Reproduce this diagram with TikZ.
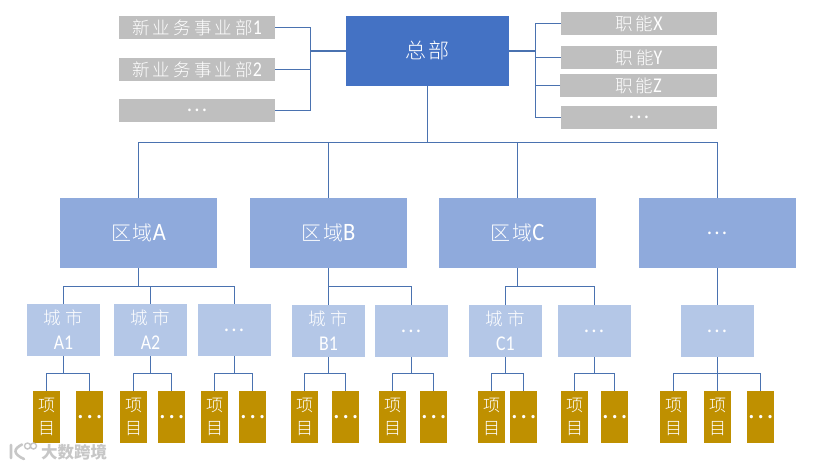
\documentclass[tikz,border=0pt]{standalone}
\usepackage{fontspec}
\setmainfont{Carlito}
\newfontfamily\cjkH[LetterSpace=14,UprightFont=* Light]{Noto Sans CJK SC}
\newfontfamily\cjkA[LetterSpace=8,UprightFont=* Light]{Noto Sans CJK SC}
\newfontfamily\cjkB[LetterSpace=18,UprightFont=* Light]{Noto Sans CJK SC}
\newfontfamily\cjkC[LetterSpace=26,UprightFont=* Light]{Noto Sans CJK SC}
\newfontfamily\cjkD[UprightFont=* Light]{Noto Sans CJK SC}
\newfontfamily\cjkplain{Noto Sans CJK SC}
\newfontfamily\lat[Scale=1.2,FakeStretch=0.85]{Carlito}
\newfontfamily\latr[Scale=1.25,FakeStretch=0.9]{Carlito}
\newcommand{\fs}[2]{\fontsize{#1}{#2}\selectfont}
\newcommand{\dotsmark}{{\cjkplain\fs{20}{24}…}}
\newcommand{\dotsbig}{{\cjkplain\fs{25}{24}…}}
\definecolor{hqc}{HTML}{4472C4}
\definecolor{greyc}{HTML}{BFBFBF}
\definecolor{regc}{HTML}{8FAADC}
\definecolor{cityc}{HTML}{B4C7E7}
\definecolor{projc}{HTML}{BF9000}
\definecolor{linec}{HTML}{4A72B0}
\tikzset{
  every node/.style={inner sep=0pt,outer sep=0pt,text=white,align=center},
  hqbox/.style={fill=hqc,minimum width=163pt,minimum height=70pt,font=\cjkH\fs{21}{24}},
  greybox/.style={fill=greyc,minimum width=156.5pt,minimum height=22.5pt,font=\cjkB\fs{17.5}{20}},
  regbox/.style={fill=regc,minimum width=157pt,minimum height=70pt,font=\cjkA\fs{20}{24}},
  citybox/.style={fill=cityc,minimum width=73.5pt,minimum height=52pt,font=\cjkC\fs{17.5}{25}},
  projbox/.style={fill=projc,minimum width=27pt,minimum height=52pt,font=\cjkD\fs{17}{23}},
  link/.style={draw=linec,line width=1.2pt},
  wm/.style={text=black!22,font=\cjkplain\bfseries\fs{16.5}{18}}
}
\begin{document}
\begin{tikzpicture}[x=1pt,y=-1pt]
\useasboundingbox (0,0) rectangle (832,467);
% head office
\node[hqbox] (hq) at (427.5,51) {总部};
% new business units
\node[greybox] (n1) at (197,27.5) {新业务事业部{\lat 1}};
\node[greybox] (n2) at (197,69.5) {新业务事业部{\lat 2}};
\node[greybox] (n3) at (197,110.5) {\dotsmark};
% functions
\node[greybox] (f1) at (639,23.5) {职能{\lat X}};
\node[greybox] (f2) at (639,57.5) {职能{\lat Y}};
\node[greybox] (f3) at (638.5,85.5) {职能{\lat Z}};
\node[greybox] (f4) at (639,117.5) {\dotsmark};
% regions
\node[regbox] (ra) at (138.5,233) {区域{\latr A}};
\node[regbox] (rb) at (328.5,233) {区域{\latr B}};
\node[regbox] (rc) at (517.5,233) {区域{\latr C}};
\node[regbox] (rd) at (717.5,233) {\dotsmark};
% cities
\node[citybox] (a1) at (63.5,330) {城市\\{\lat A1}};
\node[citybox] (a2) at (150.5,330) {城市\\{\lat A2}};
\node[citybox] (a3) at (234.5,330) {\dotsmark};
\node[citybox] (b1) at (328.5,331) {城市\\{\lat B1}};
\node[citybox] (b2) at (411.5,331) {\dotsmark};
\node[citybox] (c1) at (505.5,331) {城市\\{\lat C1}};
\node[citybox] (c2) at (594.5,331) {\dotsmark};
\node[citybox] (d1) at (717.5,331) {\dotsmark};
% projects
\node[projbox] (p1) at (46.5,417) {项\\目};
\node[projbox] (p2) at (89.5,417) {\dotsbig};
\node[projbox] (p3) at (133.5,417) {项\\目};
\node[projbox] (p4) at (171.5,417) {\dotsbig};
\node[projbox] (p5) at (214.5,417) {项\\目};
\node[projbox] (p6) at (252.5,417) {\dotsbig};
\node[projbox] (p7) at (304.5,417) {项\\目};
\node[projbox] (p8) at (345.5,417) {\dotsbig};
\node[projbox] (p9) at (392.5,417) {项\\目};
\node[projbox] (p10) at (433.5,417) {\dotsbig};
\node[projbox] (p11) at (491.5,417) {项\\目};
\node[projbox] (p12) at (523.5,417) {\dotsbig};
\node[projbox] (p13) at (574.5,417) {项\\目};
\node[projbox] (p14) at (614.5,417) {\dotsbig};
\node[projbox] (p15) at (673.5,417) {项\\目};
\node[projbox] (p16) at (717.5,417) {项\\目};
\node[projbox] (p17) at (760.5,417) {\dotsbig};
% junctions
\coordinate (jl) at (310.5,51);
\coordinate (jr) at (535.5,51);
\coordinate (jm) at (427.5,142.5);
\coordinate (ja) at (138.5,286.5);
\coordinate (jb) at (328.5,286.5);
\coordinate (jc) at (517.5,286.5);
\coordinate (ja1) at (63.5,373.5);
\coordinate (ja2) at (150.5,373.5);
\coordinate (ja3) at (234.5,373.5);
\coordinate (jb1) at (328.5,373.5);
\coordinate (jb2) at (411.5,373.5);
\coordinate (jc1) at (505.5,373.5);
\coordinate (jc2) at (594.5,373.5);
\coordinate (jd1) at (717.5,373.5);
% connectors
\draw[link] (hq.west) -- (jl);
\foreach \n in {n1,n2,n3} \draw[link] (\n.east) -| (jl);
\draw[link] (hq.east) -- (jr);
\foreach \n in {f1,f2,f3,f4} \draw[link] (\n.west) -| (jr);
\draw[link] (hq.south) -- (jm);
\foreach \n in {ra,rb,rc,rd} \draw[link] (\n.north) |- (jm);
\draw[link] (ra.south) -- (ja);
\foreach \n in {a1,a2,a3} \draw[link] (\n.north) |- (ja);
\draw[link] (rb.south) -- (jb);
\foreach \n in {b1,b2} \draw[link] (\n.north) |- (jb);
\draw[link] (rc.south) -- (jc);
\foreach \n in {c1,c2} \draw[link] (\n.north) |- (jc);
\draw[link] (rd.south) -- (d1.north);
\foreach \c/\j/\x/\y in {a1/ja1/p1/p2,a2/ja2/p3/p4,a3/ja3/p5/p6,b1/jb1/p7/p8,b2/jb2/p9/p10,c1/jc1/p11/p12,c2/jc2/p13/p14,d1/jd1/p15/p17}{
  \draw[link] (\c.south) -- (\j);
  \draw[link] (\x.north) |- (\j);
  \draw[link] (\y.north) |- (\j);
}
\draw[link] (p16.north) -- (jd1);
% watermark
\node[wm,anchor=west] (wmtext) at (41,452) {大数跨境};
\draw[black!22,line width=2.6pt,line cap=round,line join=round] (11,445) -- (11,458) (22,444.5) .. controls (13,449) and (13,454) .. (24,459);
\draw[black!22,line width=1.4pt] (27.5,446) circle (3pt) (33.5,446) circle (3pt);
\end{tikzpicture}
\end{document}
